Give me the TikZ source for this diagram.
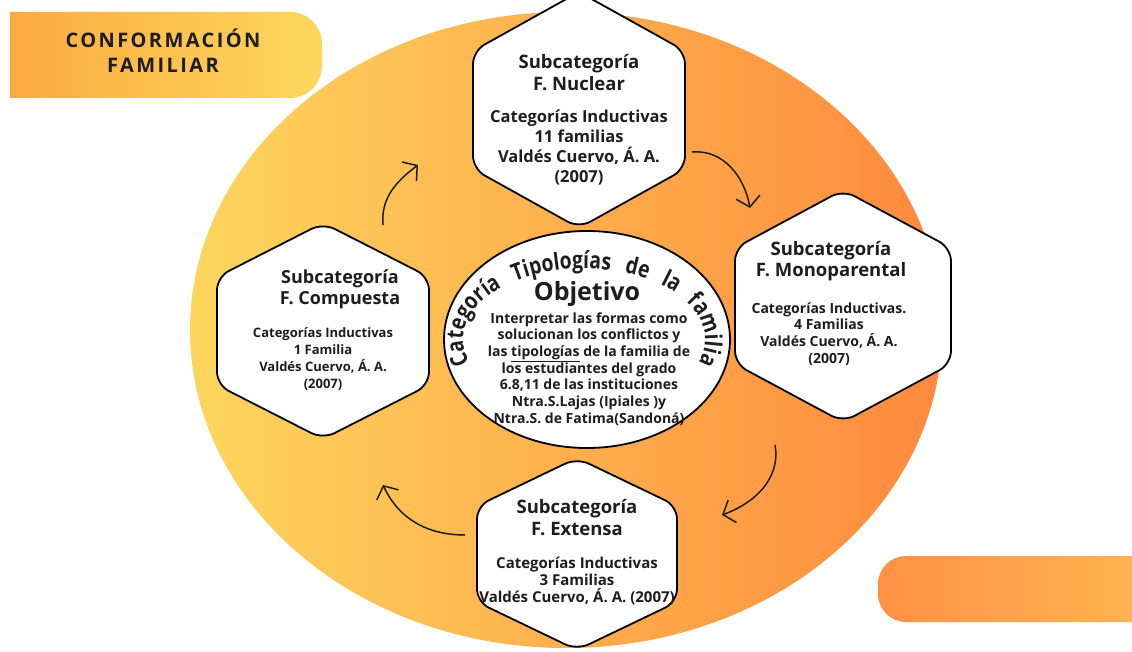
\documentclass[tikz,border=0pt]{standalone}
\usepackage{fontspec}
\setmainfont{Open Sans}
\newfontfamily\arcfont[FakeStretch=0.82]{Open Sans}
\usetikzlibrary{arrows.meta,decorations.text,shapes.geometric}

\definecolor{ellL}{RGB}{253,214,94}
\definecolor{ellR}{RGB}{255,137,61}
\definecolor{banL}{RGB}{251,170,66}
\definecolor{banR}{RGB}{253,216,92}
\definecolor{banBL}{RGB}{255,145,68}
\definecolor{banBR}{RGB}{255,180,82}
\definecolor{ink}{RGB}{30,28,28}

\tikzset{
  hexbox/.style={draw=black, line width=1.8pt, fill=white, rounded corners=13pt},
  ttl/.style={align=center, text=ink, inner sep=0pt, font=\bfseries\fontsize{18.5}{21.5}\selectfont},
  det/.style={align=center, text=ink, inner sep=0pt, font=\bfseries\fontsize{13}{17}\selectfont},
  cyc/.style={draw=ink, line width=1.5pt, -{Straight Barb[length=10pt,width=24pt]}},
}
\newcommand{\hexagonpath}[5][]{%
  \draw[hexbox,#1] (#2,#3+#5) -- (#2+#4,#3+#5/2) -- (#2+#4,#3-#5/2) -- (#2,#3-#5)
    -- (#2-#4,#3-#5/2) -- (#2-#4,#3+#5/2) -- cycle;}

\begin{document}
\begin{tikzpicture}[x=1pt,y=1pt]
\useasboundingbox (0,0) rectangle (1132,651);
\clip (0,0) rectangle (1132,651);
\fill[white] (0,0) rectangle (1132,651);

% big background ellipse
\shade[left color=ellL, right color=ellR] (566,321) ellipse[x radius=376pt, y radius=318pt];

% top-left banner
\shade[left color=banL, right color=banR]
  (10,553) -- (10,639) -- (290,639) arc[start angle=90, end angle=0, radius=32pt]
  -- (322,585) arc[start angle=0, end angle=-90, radius=32pt] -- cycle;
\node[align=center, text=ink, inner sep=0pt,
  font=\bfseries\fontsize{20}{25}\selectfont\addfontfeatures{LetterSpace=12}]
  (title) at (163,600.5) {CONFORMACIÓN\\FAMILIAR};

% bottom-right banner
\shade[left color=banBL, right color=banBR]
  (1140,95) -- (906,95) arc[start angle=90, end angle=180, radius=28pt]
  -- (878,57) arc[start angle=180, end angle=270, radius=28pt] -- (1140,29) -- cycle;

% hexagons
\hexagonpath{579}{541}{106}{118}
\hexagonpath{843}{345}{108}{116}
\hexagonpath{323}{320}{106}{108}
\hexagonpath{577}{97}{100}{96}

% central ellipse
\node[draw=black, line width=1.8pt, fill=white, ellipse, inner sep=0pt,
  minimum width=286pt, minimum height=217pt] (circ) at (587,311.5) {};
\coordinate (arcc) at (584,311.5);

% curved heading
\path[decorate, decoration={text along path, text align={fit to path stretching spaces},
  text={|\arcfont\bfseries\fontsize{23.5}{23.5}\selectfont\color{ink}|Categoría Tipologías de la familia}}]
  ([shift={(199:121pt and 71pt)}]arcc) arc[start angle=199, end angle=-19, x radius=121pt, y radius=71pt];

\node[text=ink, inner sep=0pt, font=\bfseries\fontsize{25}{25}\selectfont] (obj) at (587,357) {Objetivo};
\node[det, font=\bfseries\fontsize{14}{16.7}\selectfont] (objD) at (589,282)
  {Interpretar las formas como\\solucionan los conflictos y\\las \underline{tipologías} de la familia de\\los estudiantes del grado\\6.8,11 de las instituciones\\Ntra.S.Lajas (Ipiales )y\\Ntra.S. de Fatima(Sandoná)};

% hexagon texts
\node[ttl] (nucT) at (579,578.5) {Subcategoría\\F. Nuclear};
\node[det, font=\bfseries\fontsize{16.5}{20}\selectfont] (nucD) at (579,504)
  {Categorías Inductivas\\11 familias\\Valdés Cuervo, Á. A.\\(2007)};

\node[ttl] (monT) at (831,390) {Subcategoría\\F. Monoparental};
\node[det, font=\bfseries\fontsize{14}{16.7}\selectfont] (monD) at (829,317)
  {Categorías Inductivas.\\4 Familias\\Valdés Cuervo, Á. A.\\(2007)};

\node[ttl, font=\bfseries\fontsize{18}{21}\selectfont] (comT) at (340,362) {Subcategoría\\F. Compuesta};
\node[det] (comD) at (323,291.5)
  {Categorías Inductivas\\1 Familia\\Valdés Cuervo, Á. A.\\(2007)};

\node[ttl] (extT) at (577,133.5) {Subcategoría\\F. Extensa};
\node[det, font=\bfseries\fontsize{15}{17}\selectfont] (extD) at (577,70)
  {Categorías Inductivas\\3 Familias\\Valdés Cuervo, Á. A. (2007)};

% cycle arrows
\coordinate (a1s) at (383,426); \coordinate (a1e) at (418,486);
\coordinate (a2s) at (692,499); \coordinate (a2e) at (750,443);
\coordinate (a3s) at (775,206); \coordinate (a3e) at (722,136);
\coordinate (a4s) at (465,116); \coordinate (a4e) at (383,166);
\draw[cyc] (a1s) to[out=95, in=217] (a1e);
\draw[cyc] (a2s) to[out=5, in=100] (a2e);
\draw[cyc] (a3s) to[out=-80, in=20] (a3e);
\draw[cyc] (a4s) to[out=180, in=-65] (a4e);
\end{tikzpicture}
\end{document}
